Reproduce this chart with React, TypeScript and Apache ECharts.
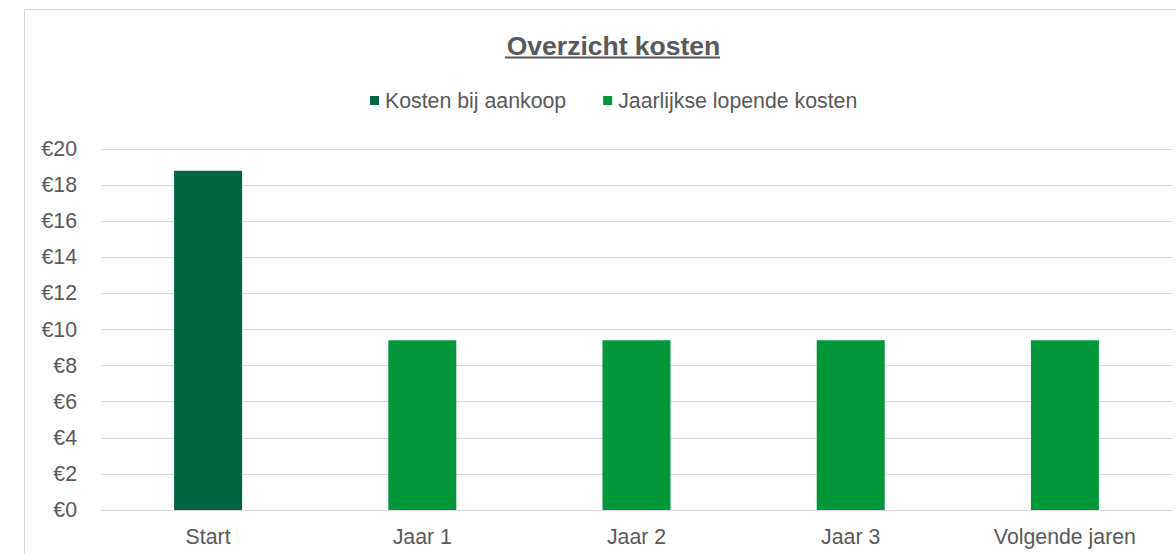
import React, { useEffect, useRef } from "react";
import * as echarts from "echarts";

const categories = ["Start", "Jaar 1", "Jaar 2", "Jaar 3", "Volgende jaren"];
const aankoop = [18.8, null, null, null, null];
const lopend = [null, 9.4, 9.4, 9.4, 9.4];
const seriesNames = ["Kosten bij aankoop", "Jaarlijkse lopende kosten"];
const yTicks = { min: 0, max: 20, interval: 2 };
const titleText = "Overzicht kosten";

export default function App() {
  const ref = useRef<HTMLDivElement>(null);
  useEffect(() => {
    const chart = echarts.init(ref.current!, null, { renderer: "svg" });
    const font = "Liberation Sans, Arial, sans-serif";
    const fs = 21.3;
    chart.setOption({
      animation: false,
      backgroundColor: "#ffffff",
      textStyle: { fontFamily: font },
      title: {
        text: titleText,
        left: 608.5,
        textAlign: "center",
        top: 27,
        textStyle: { fontSize: 26.5, fontWeight: "bold", color: "#595959", fontFamily: font },
      },
      legend: {
        data: seriesNames,
        left: 365,
        top: 85,
        itemWidth: 9,
        itemHeight: 9,
        itemGap: 37,
        icon: "rect",
        textStyle: { fontSize: fs, color: "#595959", fontFamily: font, padding: [0, 0, 0, 1] },
      },
      grid: { left: 101, right: 4, top: 149, bottom: 44, containLabel: false },
      xAxis: {
        type: "category",
        data: categories,
        axisLine: { lineStyle: { color: "#d9d9d9", width: 1 } },
        axisTick: { show: false },
        axisLabel: { fontSize: fs, color: "#595959", margin: 16, fontFamily: font },
      },
      yAxis: {
        type: "value",
        min: yTicks.min,
        max: yTicks.max,
        interval: yTicks.interval,
        axisLine: { show: false },
        axisTick: { show: false },
        splitLine: { lineStyle: { color: "#d9d9d9", width: 1 } },
        axisLabel: {
          fontSize: fs,
          color: "#595959",
          margin: 24,
          fontFamily: font,
          formatter: (v: number) => "€" + v,
        },
      },
      series: [
        {
          name: seriesNames[0],
          type: "bar",
          stack: "s",
          data: aankoop,
          barWidth: 68,
          itemStyle: { color: "#006540" },
        },
        {
          name: seriesNames[1],
          type: "bar",
          stack: "s",
          data: lopend,
          barWidth: 68,
          itemStyle: { color: "#00963A" },
        },
      ],
      graphic: [
        {
          type: "rect",
          shape: { x: 24.5, y: 9.5, width: 1200, height: 600 },
          style: { fill: "none", stroke: "#d9d9d9", lineWidth: 1 },
          silent: true,
        },
        {
          type: "line",
          shape: { x1: 505, y1: 57.5, x2: 720, y2: 57.5 },
          style: { stroke: "#595959", lineWidth: 2 },
          silent: true,
        },
      ],
    });
    return () => chart.dispose();
  }, []);
  return (
    <div
      ref={ref}
      style={{ position: "fixed", left: 0, top: 0, width: 1176, height: 554 }}
    />
  );
}
